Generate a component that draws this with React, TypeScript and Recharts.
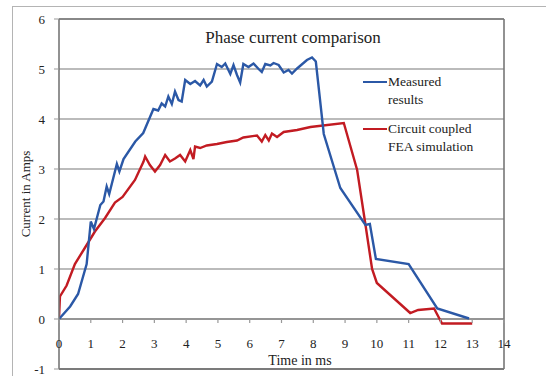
import React from "react";
import {
  CartesianGrid,
  Line,
  LineChart,
  ReferenceLine,
  XAxis,
  YAxis,
} from "recharts";

// time in ms, current in amps
const measuredTime = [
  0, 0.35, 0.6, 0.87, 1.0, 1.1, 1.3, 1.4, 1.5, 1.58, 1.82, 1.9, 2.03, 2.4, 2.65, 2.97, 3.12, 3.23,
  3.34, 3.44, 3.55, 3.65, 3.76, 3.86, 3.97, 4.13, 4.28, 4.44, 4.55, 4.65, 4.81, 4.97, 5.12, 5.23,
  5.39, 5.49, 5.6, 5.7, 5.8, 5.96, 6.12, 6.28, 6.38, 6.49, 6.65, 6.75, 6.91, 7.07, 7.22, 7.33, 7.49,
  7.8, 7.96, 8.08, 8.33, 8.85, 9.64, 9.78, 9.97, 11.0, 11.9, 12.9,
];
const measuredAmps = [
  0, 0.25, 0.5, 1.1, 1.95, 1.8, 2.28, 2.35, 2.65, 2.5, 3.1, 2.95, 3.2, 3.55, 3.72, 4.2, 4.17, 4.31,
  4.25, 4.45, 4.3, 4.55, 4.38, 4.35, 4.78, 4.7, 4.76, 4.67, 4.78, 4.65, 4.75, 5.1, 5.04, 5.11,
  4.9, 5.08, 4.88, 4.73, 5.1, 5.04, 5.11, 5.0, 4.94, 5.1, 5.07, 5.12, 5.08, 4.93, 4.98, 4.91, 5.01,
  5.18, 5.23, 5.15, 3.7, 2.62, 1.88, 1.9, 1.2, 1.1, 0.21, 0.01,
];

const simTime = [
  0, 0.03, 0.24, 0.5, 0.87, 1.13, 1.45, 1.76, 2.0, 2.39, 2.66, 2.71, 2.86, 3.02, 3.18, 3.34, 3.49,
  3.65, 3.81, 3.97, 4.13, 4.23, 4.28, 4.44, 4.65, 4.97, 5.28, 5.6, 5.8, 6.23, 6.38, 6.49, 6.6, 6.7,
  6.86, 7.07, 7.49, 7.91, 8.96, 9.38, 9.65, 9.85, 10.0, 11.05, 11.3, 11.8, 12.05, 13.0,
];
const simAmps = [
  0, 0.45, 0.67, 1.1, 1.48, 1.75, 2.02, 2.33, 2.44, 2.78, 3.15, 3.25, 3.08, 2.95, 3.08, 3.28, 3.15,
  3.21, 3.28, 3.15, 3.38, 3.2, 3.45, 3.42, 3.47, 3.5, 3.54, 3.57, 3.63, 3.67, 3.55, 3.68, 3.57, 3.71,
  3.64, 3.74, 3.78, 3.84, 3.92, 2.98, 1.85, 1.0, 0.72, 0.12, 0.18, 0.21, -0.09, -0.09,
];

const xTicks = [0, 1, 2, 3, 4, 5, 6, 7, 8, 9, 10, 11, 12, 13, 14];
const yTicks = [-1, 0, 1, 2, 3, 4, 5, 6];

const measured = measuredTime.map((t, i) => ({ t, amps: measuredAmps[i] }));
const simulated = simTime.map((t, i) => ({ t, amps: simAmps[i] }));

const BLUE = "#2b58a6";
const RED = "#c21b22";
const FONT = '"Liberation Serif", "DejaVu Serif", serif';

function XTick(props: any) {
  const { x, y, payload } = props;
  return (
    <g>
      <line x1={x} x2={x} y1={y - 50} y2={y - 46} stroke="#999" strokeWidth={1.2} />
      <text
        x={x}
        y={y - 26}
        textAnchor="middle"
        dominantBaseline="central"
        fontSize={13}
        fontFamily={FONT}
        fill="#222"
      >
        {payload.value}
      </text>
    </g>
  );
}

export default function App() {
  return (
    <div
      style={{
        position: "absolute",
        left: 0,
        top: 0,
        width: 546,
        height: 376,
        overflow: "hidden",
        background: "#fff",
        fontFamily: FONT,
        color: "#222",
      }}
    >
      <div
        style={{
          position: "absolute",
          left: 12,
          top: 6,
          width: 600,
          height: 400,
          border: "1.5px solid #b4b4b4",
        }}
      />
      <LineChart
        width={546}
        height={376}
        margin={{ top: 19, right: 42, bottom: 0, left: 0 }}
        style={{ position: "absolute", left: 0, top: 0 }}
      >
        <CartesianGrid vertical={false} stroke="#a5a5a5" strokeWidth={1.3} />
        <XAxis
          type="number"
          dataKey="t"
          domain={[0, 14]}
          ticks={xTicks}
          interval={0}
          height={7}
          tickSize={0}
          tickMargin={0}
          tick={<XTick />}
          axisLine={{ stroke: "#777", strokeWidth: 1.6 }}
          allowDataOverflow
        />
        <YAxis
          type="number"
          domain={[-1, 6]}
          ticks={yTicks}
          interval={0}
          width={59}
          tickSize={5}
          tickMargin={9}
          tickLine={{ stroke: "#999" }}
          axisLine={{ stroke: "#777", strokeWidth: 1.6 }}
          tick={{ fontSize: 13, fontFamily: FONT, fill: "#222" }}
          label={{
            content: () => (
              <text
                transform="translate(25,194) rotate(-90)"
                textAnchor="middle"
                dominantBaseline="central"
                fontSize={13}
                fontFamily={FONT}
                fill="#222"
              >
                Current in Amps
              </text>
            ),
          }}
        />
        <ReferenceLine y={0} stroke="#888" strokeWidth={1.4} />
        <ReferenceLine x={14} stroke="#777" strokeWidth={1.6} />
        <ReferenceLine y={6} stroke="#777" strokeWidth={1.6} />
        <ReferenceLine y={-1} stroke="#777" strokeWidth={1.6} />
        <Line
          data={simulated}
          dataKey="amps"
          type="linear"
          stroke={RED}
          strokeWidth={2.4}
          dot={false}
          isAnimationActive={false}
        />
        <Line
          data={measured}
          dataKey="amps"
          type="linear"
          stroke={BLUE}
          strokeWidth={2.4}
          dot={false}
          isAnimationActive={false}
        />
      </LineChart>
      <div
        style={{
          position: "absolute",
          left: 193,
          width: 200,
          top: 27,
          textAlign: "center",
          fontSize: 17,
          lineHeight: "22px",
        }}
      >
        Phase current comparison
      </div>
      <div
        style={{
          position: "absolute",
          left: 250,
          width: 100,
          top: 352,
          textAlign: "center",
          fontSize: 14,
          lineHeight: "18px",
        }}
      >
        Time in ms
      </div>
      <div style={{ position: "absolute", left: 363, top: 73, fontSize: 13.5, lineHeight: "18px" }}>
        {[
          { color: BLUE, lines: ["Measured", "results"] },
          { color: RED, lines: ["Circuit coupled", "FEA simulation"] },
        ].map((item, i) => (
          <div key={i} style={{ display: "flex", marginBottom: i === 0 ? 11 : 0 }}>
            <div style={{ width: 24, height: 18, position: "relative" }}>
              <div
                style={{
                  position: "absolute",
                  top: 8,
                  left: 0,
                  width: 24,
                  height: 2.4,
                  background: item.color,
                }}
              />
            </div>
            <div style={{ marginLeft: 1 }}>
              {item.lines.map((l) => (
                <div key={l}>{l}</div>
              ))}
            </div>
          </div>
        ))}
      </div>
    </div>
  );
}
